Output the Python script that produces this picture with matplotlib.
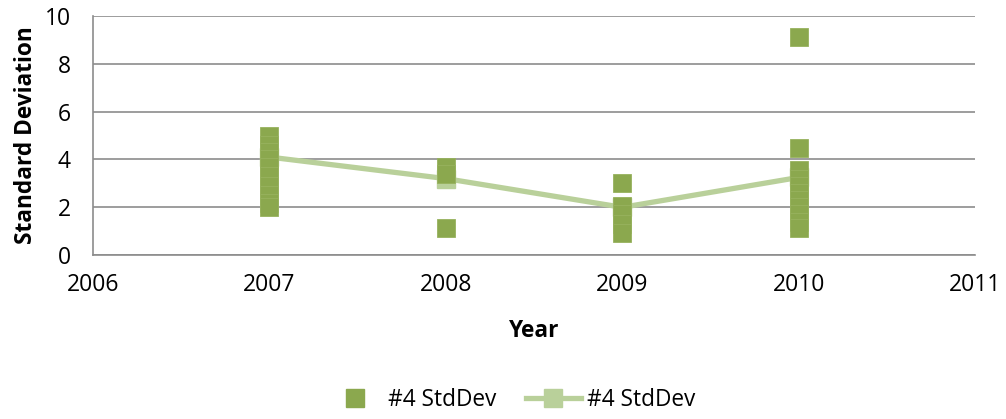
import matplotlib.pyplot as plt
from matplotlib.lines import Line2D

plt.rcParams['font.family'] = ['Open Sans', 'DejaVu Sans']

# individual std dev points per year
years_2007 = [5.0, 4.6, 4.3, 4.0, 3.7, 3.3, 2.9, 2.5, 2.2, 2.0]
years_2008 = [3.7, 3.4, 1.13]
years_2009 = [3.03, 2.05, 1.7, 1.3, 0.92]
years_2010 = [9.1, 4.5, 3.55, 3.2, 2.9, 2.6, 2.3, 2.0, 1.7, 1.4, 1.15]
point_groups = {2007: years_2007, 2008: years_2008, 2009: years_2009, 2010: years_2010}

# average line
line_years = [2007, 2008, 2009, 2010]
line_values = [4.1, 3.2, 2.0, 3.25]

dark = '#8BA84E'
light = '#B9D09A'

fig = plt.figure(figsize=(10.06, 4.19), dpi=100)
ax = fig.add_axes([0.0924, 0.391, 0.877, 0.571])

ax.plot(line_years, line_values, color=light, linewidth=3.8, marker='s',
        markersize=13, markerfacecolor=light, markeredgecolor=light, zorder=2)

xs, ys = [], []
for yr, vals in point_groups.items():
    xs += [yr] * len(vals)
    ys += vals
ax.plot(xs, ys, linestyle='none', marker='s', markersize=13,
        markerfacecolor=dark, markeredgecolor='#97B25E', markeredgewidth=0.6, zorder=3)

ax.set_xlim(2006, 2011)
ax.set_ylim(0, 10)
ax.set_xticks(range(2006, 2012))
ax.set_yticks(range(0, 11, 2))
ax.tick_params(axis='both', length=0, labelsize=16.5, colors='black')
ax.tick_params(axis='x', pad=13)
ax.tick_params(axis='y', pad=16)
ax.grid(axis='y', color='#8C8C8C', linewidth=1.2)
ax.set_axisbelow(True)
for s in ['top', 'right']:
    ax.spines[s].set_visible(False)
for s in ['left', 'bottom']:
    ax.spines[s].set_color('#8C8C8C')
    ax.spines[s].set_linewidth(1.2)

ax.set_xlabel('Year', fontsize=16.3, fontweight='bold', labelpad=16)
ax.set_ylabel('Standard Deviation', fontsize=16.3, fontweight='bold', labelpad=5)

handles = [
    Line2D([], [], linestyle='none', marker='s', markersize=13,
           markerfacecolor=dark, markeredgecolor=dark),
    Line2D([], [], color=light, linewidth=3.8, marker='s', markersize=13,
           markerfacecolor=light, markeredgecolor=light),
]
fig.legend(handles, ['#4 StdDev', '#4 StdDev'], loc='center', bbox_to_anchor=(0.508, 0.045),
           ncol=2, frameon=False, fontsize=16.3, handlelength=2.45, handletextpad=0.25,
           columnspacing=1.3)

fig.savefig('out.png', dpi=100)
